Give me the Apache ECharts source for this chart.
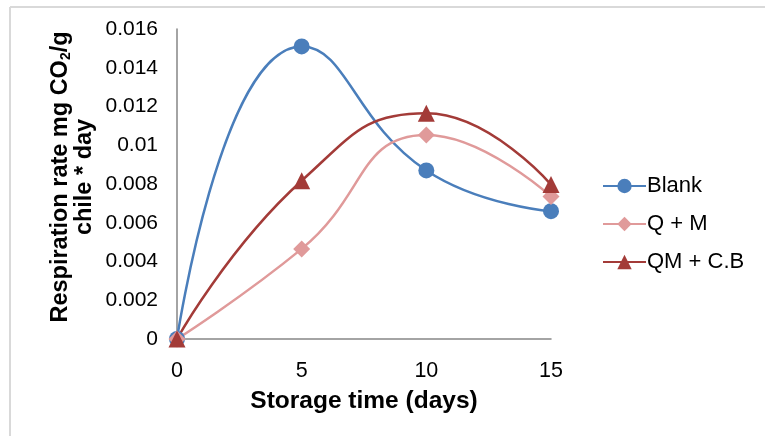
<!DOCTYPE html>
<html>
<head>
<meta charset="utf-8">
<script src="https://cdn.jsdelivr.net/npm/echarts@6/dist/echarts.min.js"></script>
<style>
html,body{margin:0;padding:0;background:#fff;}
#c{width:765px;height:436px;}
</style>
</head>
<body>
<div id="c"></div>
<script>
const days = [0, 5, 10, 15];
const blank = [0, 0.0151, 0.0087, 0.0066];
const qm = [0, 0.00465, 0.01053, 0.00735];
const qmcb = [0, 0.00817, 0.01165, 0.00797];
const seriesNames = ['Blank', 'Q + M', 'QM + C.B'];
const xTitle = 'Storage time (days)';

const FONT = '"Liberation Sans", Arial, sans-serif';
const pairs = arr => days.map((d, i) => [d, arr[i]]);

const chart = echarts.init(document.getElementById('c'));
chart.setOption({
  animation: false,
  backgroundColor: '#fff',
  graphic: [
    { type: 'line', shape: { x1: 10, y1: 7, x2: 765, y2: 7 }, style: { stroke: '#d9d9d9', lineWidth: 2 } },
    { type: 'line', shape: { x1: 10, y1: 7, x2: 10, y2: 436 }, style: { stroke: '#d9d9d9', lineWidth: 2 } }
  ],
  grid: { left: 177, right: 214, top: 29, bottom: 97 },
  legend: {
    orient: 'vertical',
    left: 597,
    top: 170,
    itemWidth: 43,
    itemHeight: 18,
    itemGap: 16,
    textStyle: { fontFamily: FONT, fontSize: 22, color: '#000', padding: [0, 0, 0, -4] },
    data: seriesNames
  },
  xAxis: {
    type: 'value',
    min: 0, max: 15, interval: 5,
    axisLine: { lineStyle: { color: '#868686', width: 1.5 } },
    axisTick: { show: false },
    splitLine: { show: false },
    axisLabel: { fontFamily: FONT, fontSize: 21.5, color: '#000', margin: 21 },
    name: xTitle,
    nameLocation: 'middle',
    nameGap: 50,
    nameTextStyle: { fontFamily: FONT, fontSize: 24.5, fontWeight: 'bold', color: '#000' }
  },
  yAxis: {
    type: 'value',
    min: 0, max: 0.016, interval: 0.002,
    axisLine: { show: true, lineStyle: { color: '#868686', width: 1.5 } },
    axisTick: { show: false },
    splitLine: { show: false },
    axisLabel: { fontFamily: FONT, fontSize: 21, color: '#000', margin: 19 },
    name: 'Respiration rate mg CO{sub|2}/g\nchile * day',
    nameLocation: 'middle',
    nameRotate: 90,
    nameGap: 80,
    nameTextStyle: {
      fontFamily: FONT, fontSize: 23.5, fontWeight: 'bold', color: '#000', lineHeight: 24,
      padding: [0, 0, 0, 14],
      rich: { sub: { fontFamily: FONT, fontSize: 14, fontWeight: 'bold', color: '#000', verticalAlign: 'bottom', lineHeight: 24, padding: [8, 0, 0, 0] } }
    }
  },
  series: [
    {
      name: seriesNames[0], type: 'line', data: pairs(blank), smooth: 0.5,
      symbol: 'circle', symbolSize: 16,
      lineStyle: { color: '#4a7ebb', width: 2.5 },
      itemStyle: { color: '#4a7ebb' }
    },
    {
      name: seriesNames[1], type: 'line', data: pairs(qm), smooth: 0.5,
      symbol: 'diamond', symbolSize: 17,
      lineStyle: { color: '#e09a9a', width: 2.5 },
      itemStyle: { color: '#e09a9a' }
    },
    {
      name: seriesNames[2], type: 'line', data: pairs(qmcb), smooth: 0.5,
      symbol: 'triangle', symbolSize: 17,
      lineStyle: { color: '#a33b38', width: 2.5 },
      itemStyle: { color: '#a33b38' }
    }
  ]
});
</script>
</body>
</html>
